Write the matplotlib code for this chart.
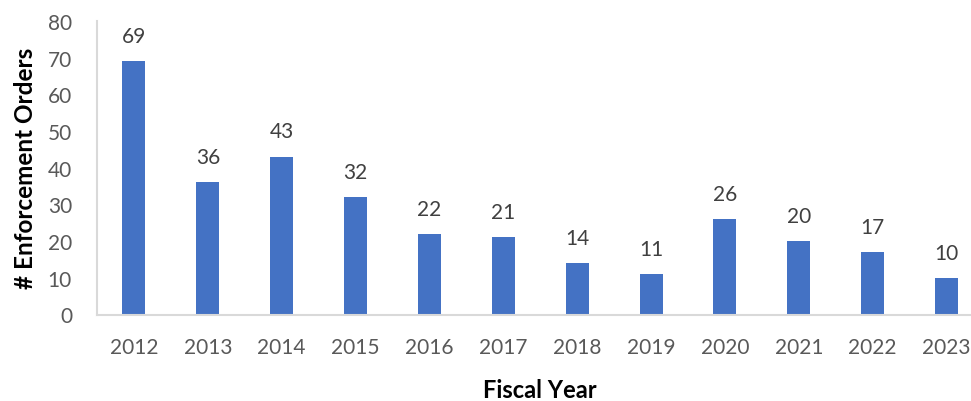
import matplotlib.pyplot as plt

plt.rcParams["font.family"] = ["Lato", "DejaVu Sans"]

years = ["2012", "2013", "2014", "2015", "2016", "2017",
         "2018", "2019", "2020", "2021", "2022", "2023"]
orders = [69, 36, 43, 32, 22, 21, 14, 11, 26, 20, 17, 10]

BAR_COLOR = "#4472C4"
TEXT_COLOR = "#595959"
AXIS_COLOR = "#D9D9D9"

fig = plt.figure(figsize=(9.71, 4.02), dpi=100)
W, H = 971, 402
left, right, bottom, top = 97, 983.5, 315.5, 22
ax = fig.add_axes([left / W, 1 - bottom / H, (right - left) / W, (bottom - top) / H])

x = range(len(years))
bars = ax.bar(x, orders, width=0.31, color=BAR_COLOR)
ax.bar_label(bars, padding=11, fontsize=15, color="#404040")

ax.set_xlim(-0.5, len(years) - 0.5)
ax.set_ylim(0, 80)
ax.set_yticks(range(0, 81, 10))
ax.set_xticks(list(x))
ax.set_xticklabels(years)
ax.tick_params(axis="both", length=0, labelsize=15, labelcolor=TEXT_COLOR)
ax.tick_params(axis="x", pad=16)
ax.tick_params(axis="y", pad=18)

for side in ("top", "right"):
    ax.spines[side].set_visible(False)
for side in ("left", "bottom"):
    ax.spines[side].set_color(AXIS_COLOR)
    ax.spines[side].set_linewidth(1.5)

ax.set_xlabel("Fiscal Year", fontsize=17, fontweight="bold", color="black", labelpad=15.5)
ax.set_ylabel("# Enforcement Orders", fontsize=17.5, fontweight="bold", color="black", labelpad=8)

fig.savefig("out.png", dpi=100)
